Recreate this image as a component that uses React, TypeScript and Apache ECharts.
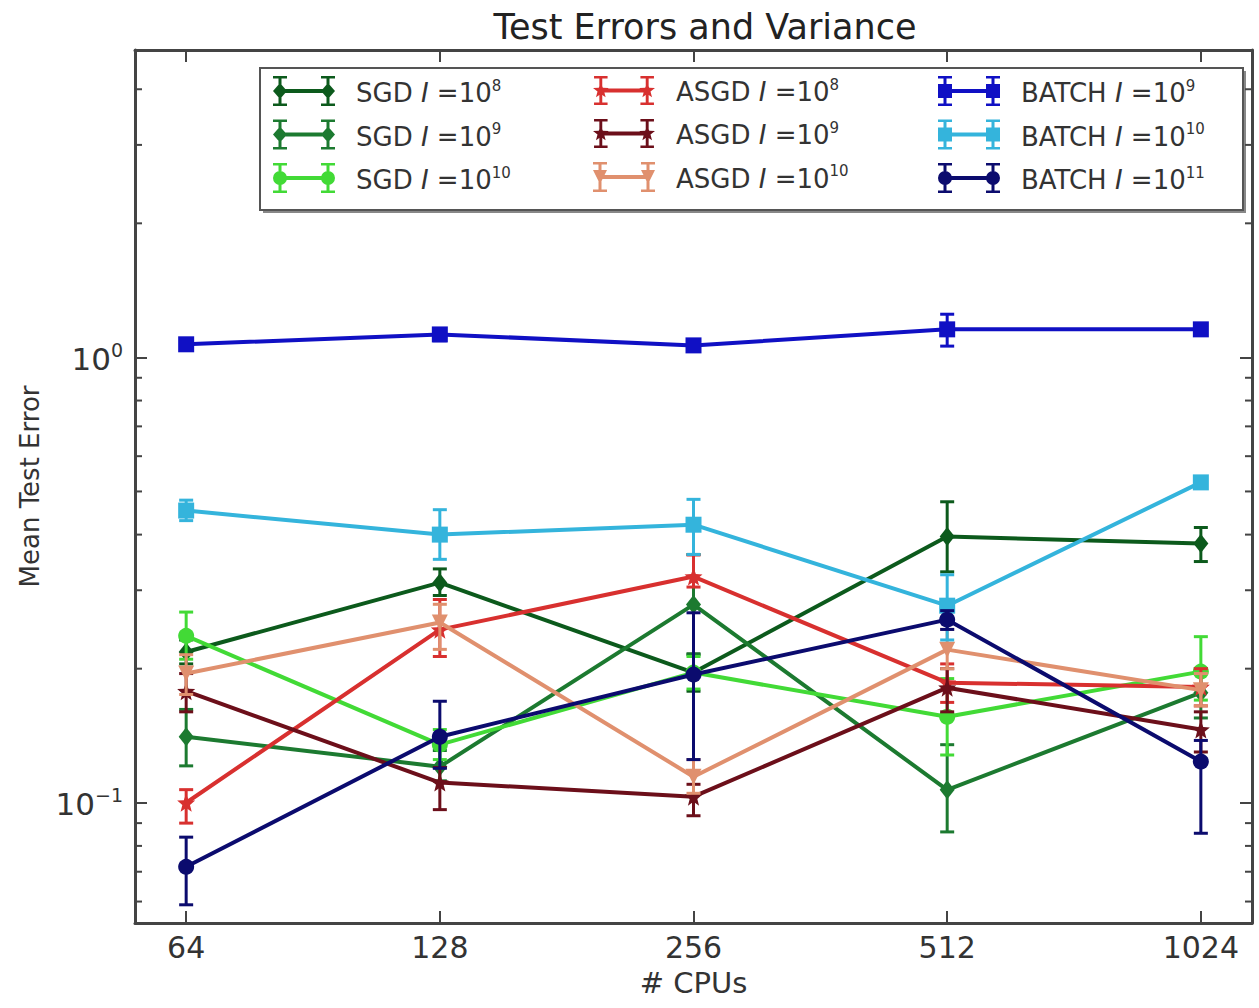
import React, { useEffect, useRef } from 'react';
import * as echarts from 'echarts';

// ---------- data ----------
const cpus = [64, 128, 256, 512, 1024];
const xLimits = [55.65, 1177.6];
const yLimits = [0.0537, 4.9];
const yMinorTicks = [0.06, 0.07, 0.08, 0.09, 0.2, 0.3, 0.4, 0.5, 0.6, 0.7, 0.8, 0.9, 2, 3, 4];

const sgd8Mean = [0.218, 0.312, 0.196, 0.396, 0.382];
const sgd8Low = [0.205, 0.292, 0.178, 0.33, 0.348];
const sgd8High = [0.232, 0.335, 0.216, 0.474, 0.415];

const sgd9Mean = [0.1407, 0.1205, 0.2786, 0.1069, 0.1767];
const sgd9Low = [0.121, 0.112, 0.215, 0.086, 0.155];
const sgd9High = [0.162, 0.131, 0.361, 0.135, 0.2];

const sgd10Mean = [0.237, 0.135, 0.196, 0.156, 0.197];
const sgd10Low = [0.21, 0.125, 0.18, 0.128, 0.17];
const sgd10High = [0.268, 0.146, 0.213, 0.19, 0.236];

const asgd8Mean = [0.1, 0.2447, 0.322, 0.186, 0.182];
const asgd8Low = [0.09, 0.213, 0.305, 0.168, 0.165];
const asgd8High = [0.107, 0.286, 0.36, 0.205, 0.2];

const asgd9Mean = [0.178, 0.111, 0.1032, 0.1813, 0.146];
const asgd9Low = [0.16, 0.0965, 0.0935, 0.16, 0.13];
const asgd9High = [0.195, 0.12, 0.11, 0.2, 0.16];

const asgd10Mean = [0.195, 0.254, 0.1144, 0.2207, 0.179];
const asgd10Low = [0.175, 0.221, 0.105, 0.2, 0.165];
const asgd10High = [0.215, 0.279, 0.125, 0.245, 0.195];

const batch9Mean = [1.07, 1.126, 1.064, 1.156, 1.156];
const batch9Low = [1.04, 1.09, 1.04, 1.06, 1.12];
const batch9High = [1.1, 1.16, 1.09, 1.25, 1.19];

const batch10Mean = [0.453, 0.4, 0.421, 0.277, 0.524];
const batch10Low = [0.43, 0.352, 0.361, 0.232, 0.51];
const batch10High = [0.478, 0.455, 0.48, 0.325, 0.54];

const batch11Mean = [0.0718, 0.1407, 0.194, 0.2577, 0.1237];
const batch11Low = [0.059, 0.1195, 0.125, 0.245, 0.0854];
const batch11High = [0.0837, 0.169, 0.267, 0.27, 0.138];

// ---------- styling helpers ----------
const FONT = 'DejaVu Sans';
const FRAME = '#444';

function starPath(cx: number, cy: number, ro: number, ri: number) {
  const pts: string[] = [];
  for (let k = 0; k < 10; k++) {
    const a = -Math.PI / 2 + (k * Math.PI) / 5;
    const r = k % 2 === 0 ? ro : ri;
    pts.push(`${(cx + r * Math.cos(a)).toFixed(2)} ${(cy + r * Math.sin(a)).toFixed(2)}`);
  }
  return 'M' + pts.join('L') + 'Z';
}

function markerAt(kind: string, cx: number) {
  const l = cx - 7;
  switch (kind) {
    case 'diamond':
      return `M${cx} 7L${cx + 7} 15L${cx} 23L${l} 15Z`;
    case 'circle':
      return `M${l} 15A7 7 0 1 1 ${cx + 7} 15A7 7 0 1 1 ${l} 15Z`;
    case 'square':
      return `M${l} 8h14v14h-14Z`;
    case 'tri':
      return `M${l} 8h14L${cx} 22Z`;
    case 'star':
      return starPath(cx, 15, 8.5, 3.6);
    default:
      return `M${l} 8h14v14h-14Z`;
  }
}

function legendIcon(kind: string) {
  const parts = [
    'M0 0h14v2.5h-14Z',
    'M0 27.5h14v2.5h-14Z',
    'M48 0h14v2.5h-14Z',
    'M48 27.5h14v2.5h-14Z',
    'M5.5 0h3v30h-3Z',
    'M53.5 0h3v30h-3Z',
    'M7 13h48v4h-48Z',
    markerAt(kind, 7),
    markerAt(kind, 55),
  ];
  return 'path://' + parts.join('');
}

type SeriesDef = {
  name: string;
  mean: number[];
  low: number[];
  high: number[];
  color: string;
  kind: string;
};

const seriesDefs: SeriesDef[] = [
  { name: 'SGD I=10^8', mean: sgd8Mean, low: sgd8Low, high: sgd8High, color: '#0c5a1c', kind: 'diamond' },
  { name: 'SGD I=10^9', mean: sgd9Mean, low: sgd9Low, high: sgd9High, color: '#1c7a30', kind: 'diamond' },
  { name: 'SGD I=10^10', mean: sgd10Mean, low: sgd10Low, high: sgd10High, color: '#42da36', kind: 'circle' },
  { name: 'ASGD I=10^8', mean: asgd8Mean, low: asgd8Low, high: asgd8High, color: '#d8302f', kind: 'star' },
  { name: 'ASGD I=10^9', mean: asgd9Mean, low: asgd9Low, high: asgd9High, color: '#6c0f1a', kind: 'star' },
  { name: 'ASGD I=10^10', mean: asgd10Mean, low: asgd10Low, high: asgd10High, color: '#e0906e', kind: 'tri' },
  { name: 'BATCH I=10^9', mean: batch9Mean, low: batch9Low, high: batch9High, color: '#1010c4', kind: 'square' },
  { name: 'BATCH I=10^10', mean: batch10Mean, low: batch10Low, high: batch10High, color: '#34b4dc', kind: 'square' },
  { name: 'BATCH I=10^11', mean: batch11Mean, low: batch11Low, high: batch11High, color: '#0b0b6e', kind: 'circle' },
];

function seriesSymbol(kind: string): { symbol: string; symbolSize: number | number[]; symbolRotate?: number } {
  switch (kind) {
    case 'diamond':
      return { symbol: 'diamond', symbolSize: [15, 19] };
    case 'circle':
      return { symbol: 'circle', symbolSize: 16 };
    case 'square':
      return { symbol: 'rect', symbolSize: 16 };
    case 'tri':
      return { symbol: 'triangle', symbolSize: 16, symbolRotate: 180 };
    case 'star':
      return { symbol: 'path://' + starPath(8, 8, 8, 3.4), symbolSize: 18 };
    default:
      return { symbol: 'circle', symbolSize: 16 };
  }
}

const legendRich = {
  n: { fontFamily: FONT, fontSize: 26, color: '#333', lineHeight: 30, verticalAlign: 'bottom' },
  i: { fontFamily: FONT, fontStyle: 'italic', fontSize: 26, color: '#333', lineHeight: 30, verticalAlign: 'bottom' },
  s: { fontFamily: FONT, fontSize: 15, color: '#333', lineHeight: 16, padding: [0, 0, 13, 0], verticalAlign: 'bottom' },
};

function legendFormatter(name: string) {
  const m = name.match(/^(\w+) I=10\^(\d+)$/);
  if (!m) return name;
  return `{n|${m[1]} }{i|I}{n| =10}{s|${m[2]}}`;
}

function makeLegend(defs: SeriesDef[], left: number) {
  return {
    orient: 'vertical',
    left,
    top: 71,
    itemWidth: 62,
    itemHeight: 30,
    itemGap: 13.5,
    selectedMode: false,
    formatter: legendFormatter,
    itemStyle: { borderWidth: 0 },
    textStyle: { padding: [0, 0, 0, 16], rich: legendRich },
    data: defs.map((d) => ({ name: d.name, icon: legendIcon(d.kind) })),
  };
}

const isPow = (v: number, base: number) => {
  const e = Math.log(v) / Math.log(base);
  return Math.abs(e - Math.round(e)) < 1e-6;
};

export default function App() {
  const ref = useRef<HTMLDivElement>(null);

  useEffect(() => {
    if (!ref.current) return;
    const chart = echarts.init(ref.current, undefined, { renderer: 'svg' });

    const series: any[] = [];
    seriesDefs.forEach((d, idx) => {
      const sym = seriesSymbol(d.kind);
      series.push({
        type: 'custom',
        name: d.name,
        xAxisIndex: 0,
        yAxisIndex: 0,
        z: 2 + idx * 0.01,
        silent: true,
        encode: { x: 0, y: [1, 2] },
        data: cpus.map((c, i) => [c, d.low[i], d.high[i]]),
        itemStyle: { color: d.color },
        renderItem: (params: any, api: any) => {
          const x = api.value(0);
          const pLo = api.coord([x, api.value(1)]);
          const pHi = api.coord([x, api.value(2)]);
          const w = 7;
          const style = { stroke: d.color, lineWidth: 3 };
          return {
            type: 'group',
            children: [
              { type: 'line', shape: { x1: pLo[0], y1: pLo[1], x2: pHi[0], y2: pHi[1] }, style },
              { type: 'line', shape: { x1: pLo[0] - w, y1: pLo[1], x2: pLo[0] + w, y2: pLo[1] }, style },
              { type: 'line', shape: { x1: pHi[0] - w, y1: pHi[1], x2: pHi[0] + w, y2: pHi[1] }, style },
            ],
          };
        },
      });
      series.push({
        type: 'line',
        name: d.name,
        xAxisIndex: 0,
        yAxisIndex: 0,
        z: 2 + idx * 0.01 + 0.005,
        data: cpus.map((c, i) => [c, d.mean[i]]),
        symbol: sym.symbol,
        symbolSize: sym.symbolSize,
        symbolRotate: sym.symbolRotate,
        showAllSymbol: true,
        lineStyle: { color: d.color, width: 4 },
        itemStyle: { color: d.color, borderWidth: 0 },
        emphasis: { disabled: true },
      });
    });

    // minor ticks on the log y axis (left and right)
    series.push({
      type: 'custom',
      silent: true,
      xAxisIndex: 0,
      yAxisIndex: 0,
      z: 10,
      encode: { x: 0, y: 1 },
      data: yMinorTicks.map((v) => [cpus[0], v]),
      renderItem: (params: any, api: any) => {
        const cs = params.coordSys;
        const y = api.coord([api.value(0), api.value(1)])[1];
        const style = { stroke: FRAME, lineWidth: 2 };
        return {
          type: 'group',
          children: [
            { type: 'line', shape: { x1: cs.x, y1: y, x2: cs.x + 7, y2: y }, style },
            { type: 'line', shape: { x1: cs.x + cs.width - 7, y1: y, x2: cs.x + cs.width, y2: y }, style },
          ],
        };
      },
    });

    const xBase = {
      type: 'log',
      logBase: 2,
      min: xLimits[0],
      max: xLimits[1],
      splitLine: { show: false },
      axisLine: { show: true, lineStyle: { color: FRAME, width: 3 } },
      axisTick: { show: true, inside: true, length: 12, lineStyle: { color: FRAME, width: 2 } },
    };
    const yBase = {
      type: 'log',
      logBase: 10,
      min: yLimits[0],
      max: yLimits[1],
      splitLine: { show: false },
      axisLine: { show: true, lineStyle: { color: FRAME, width: 3 } },
      axisTick: { show: true, inside: true, length: 12, lineStyle: { color: FRAME, width: 2 } },
    };

    chart.setOption({
      animation: false,
      backgroundColor: '#ffffff',
      title: {
        text: 'Test Errors and Variance',
        left: 700,
        textAlign: 'center',
        top: 4,
        textStyle: { fontFamily: FONT, fontSize: 35, fontWeight: 'normal', color: '#222' },
      },
      grid: { left: 135, right: 7, top: 50, bottom: 85, containLabel: false },
      xAxis: [
        {
          ...xBase,
          position: 'bottom',
          name: '# CPUs',
          nameLocation: 'middle',
          nameGap: 45,
          nameTextStyle: { fontFamily: FONT, fontSize: 29, color: '#333' },
          axisLabel: {
            show: true,
            margin: 9,
            fontFamily: FONT,
            fontSize: 30,
            color: '#333',
            formatter: (v: number) => (isPow(v, 2) ? String(Math.round(v)) : ''),
          },
        },
        { ...xBase, position: 'top', axisLabel: { show: false } },
      ],
      yAxis: [
        {
          ...yBase,
          position: 'left',
          name: 'Mean Test Error',
          nameLocation: 'middle',
          nameGap: 92,
          nameRotate: 90,
          nameTextStyle: { fontFamily: FONT, fontSize: 26, color: '#333' },
          axisLabel: {
            show: true,
            margin: 12,
            formatter: (v: number) => {
              if (!isPow(v, 10)) return '';
              const e = Math.round(Math.log10(v));
              return `{b|10}{s|${e < 0 ? '\u2212' + -e : e}}`;
            },
            rich: {
              b: { fontFamily: FONT, fontSize: 31, color: '#333', lineHeight: 34, verticalAlign: 'bottom' },
              s: { fontFamily: FONT, fontSize: 19, color: '#333', lineHeight: 19, padding: [0, 0, 15, 0], verticalAlign: 'bottom' },
            },
          },
        },
        { ...yBase, position: 'right', axisLabel: { show: false } },
      ],
      legend: [
        makeLegend(seriesDefs.slice(0, 3), 268),
        makeLegend(seriesDefs.slice(3, 6), 588),
        makeLegend(seriesDefs.slice(6, 9), 933),
      ],
      graphic: [
        {
          type: 'rect',
          z: 3,
          shape: { x: 263, y: 71, width: 983, height: 142 },
          style: { fill: '#888', stroke: 'none' },
        },
        {
          type: 'rect',
          z: 3,
          shape: { x: 260, y: 68, width: 983, height: 142 },
          style: { fill: '#ffffff', stroke: '#555', lineWidth: 2 },
        },
      ],
      series,
    });

    return () => chart.dispose();
  }, []);

  return (
    <div
      ref={ref}
      style={{ position: 'fixed', left: 0, top: 0, width: 1259, height: 1008, background: '#fff' }}
    />
  );
}
